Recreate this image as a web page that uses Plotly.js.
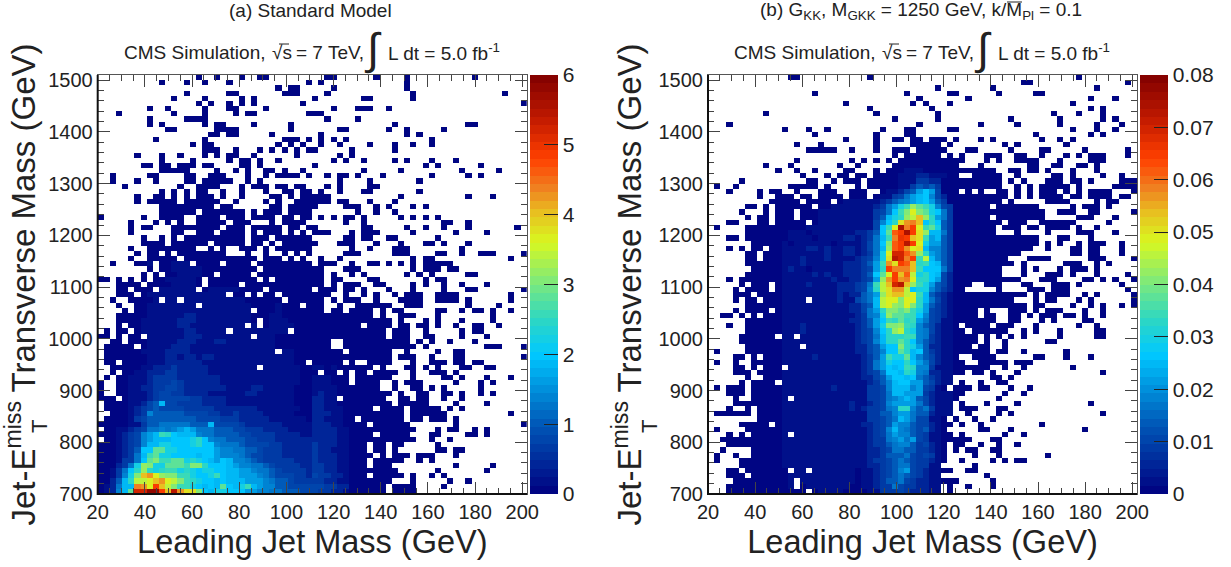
<!DOCTYPE html>
<html>
<head>
<meta charset="utf-8">
<script src="https://cdn.plot.ly/plotly-3.0.1.min.js"></script>
<style>html,body{margin:0;padding:0;background:#fff}</style>
</head>
<body>
<div id="chart" style="width:1231px;height:567px"></div>
<script>
// Cell values, top row (1500-1510 GeV) to bottom row (700-710 GeV).
// Tokens: "a" or "a-b" = lowest bin content in these columns; "a:L" / "a-b:L" = level L;
// "a=LLLL" = successive levels from column a ('.' = empty, '_' = only a visual separator).
// A level is a base-36 digit; level n is n/30 of the colour scale maximum.
const smRows = [
"16 19 23 26 27 37 38 45 50 61",
"10 14 17 21 34 36 50",
"29 31 32 38 50",
"14 21 22 30-32 37 51 66",
"12 17 23 25 35 43 44 51",
"16 18 21 23 25 33 69",
"8 11 17 21 22 27 38 42-44 47",
"3 12 17 22 24 25 34 35 36",
"8 14-17 37 42",
"8 10 17 19 20 25 31 48 60 61",
"11 12 19-22 31 39 40 47 50 56",
"18 19 21 22 28 36 50 52",
"9 17 30-32 34 36 38 40 54",
"15 17 18 29 31 33 36 39 44 48 51 54",
"17 18 19 22 26 28 30 32 34 35 41 48",
"6 10 13 17 19 21 22 25 32 39 41",
"10 15 21 23 24 26 29 38 40 43 48 50 54 58",
"7 8 10 11 13-15 17 18 23 24 26 35 53 55 62",
"10-14 19 22 24 27 28 30 33 43 49 59 65",
"2 8 9 14 15 18-20 24 27 29-32 34 37 39 40 42 46 54 60 62",
"2 6 9 14 15 17 18 19-21 24 26 39 44 52",
"4 13 16-19 23 25-27 29 30 32 33 37 39 44 45",
"10 12 14 16 17 20 23 27 30 31 33 34 36 39 43 44 52",
"6 9 10 12 14 16-18 20 23 28 29 31 33 34 35-37 49 60 64",
"6 8-12 14-18 19 22 27 29 32-34 35-37 39 40 44 48",
"10-13 14-18 20 21 28 29 31-34 35 40 41 42 45 47 51 53",
"10-13 14 15 17-21 22 23 25 27-29 31-34 42 45 48",
"0 7 10-13 16 17 18 19 21-23 25-28 30 31 33 34 36 38 40 41 43 49 51 53 55",
"5 9 11 13 16-18 19 20 22-24 28 30-33 40 43 56 57 60",
"5 7 8 12-15 16-19 21-23 25-29 31 32 34 35 43 44 50 53 56 60 68",
"5 12 13 16-18 20-23 25 27-29 31 33 35-37 41 43-45 51 58 63",
"7 10 12 14-23 25-27 29-34 40 41 43 44 47 48 55",
"7-10 12-17 19-23 25 26 28 30-34 35 39 40 41 45 49 53 54 56 60",
"5 8-15 18 20 23-25 27 29-34 41 44 48-50 59",
"6 8 9 11 13-20 24 27 30 32 34 40-42 48-50 55 56 59 62-64 69",
"5 8-12 14-25 27-29 31 33 36 39 51 53 54 67",
"2 6-8 10-14 16-19 21-24 26-34 36-38 41 44 45 47 49 51 53-57 8:1 12-14:1",
"8 10-17 18-25 27-34 35 36 40-42 51 53-55 57 58 12-16:1",
"7 9 11-18 20-24 26-34 35 36 38 41 43 50 52 54 60 61 13-16:1",
"0 1 3 5 7 9-16 18-25 27 29-34 35 36 38 39 44 45 53 55 56 11-15:1",
"3-6 8-16 18-22 24-34 35 36 38 40-42 45 46 51 53 56 59 63 12-15:1",
"3 4 6-8 10-15 17-26 28-34 36-38 40 41 43 47 51 56 60 61 69 10-15:1 18-22:1",
"0=...00_0.011_11111_11111_1.00._0.00._00000 35-37 40 43 45 48 50-52 55-58 67",
"0=..0.._00001_.11.1_11111_11110_00000_.0000 35 36 38 40-42 45 49-52 55-58 60 67",
"0=...0._.0011_11111_1.111_11111_00001_000.0 35 36 39 42-44 45-47 50-52 60 65",
"0=....0_.0011_11111_11111_11111_.0001_00000 35 36 38 39 41-44 46 48 49 55 56 59 61 62 64 67",
"0=...00_00011_11112_21111_11111_00011_00000 35-44 46 49-51 55 64",
"0=...00_00111_11122_21111_11111_0.011_10000 35-47 49 53 55 59 64",
"0=...0._00111_11122_11111_1111._1.011_11000 35-42 44-47 49 50 52 53 55 58 61 62 65",
"0=.0.00_.0111_11112_21111_1.111_11111_1.000 35-46 48-50 53 59 61 62",
"0=00.0._00.11_11112_22111_11111_.1110_00000 35-46 48-50 53 54 59 63",
"0=..00._00011_11122_21112_21111_11110_00000 35-37 40-50 52 54 57 61",
"0=.0000_0.011_11222_11111_11111_11110_00000 35-37 40-51 53 63-65 69",
"0=.0000_00111_12222_11111_11111_1111._11000 35-39 41-47 50 55 58 59",
"0=.0000_00011_12212_21221_11111_11111_11000 35-47 49-51 54 58 59 69",
"0=.00.0_00011_12222_22111_11111_11111_1100. 35-39 41 44-47 51 54-56 58 59 61 62",
"0=..000_00112_22322_22211_11111_1.111_11100 35-44 46 50 51 53 55 59 60 63 64 35=1101",
"0=..0.0_01122_23322_22211_11111_11111_11100 35 37 38 40 42 43 45-48 51 54-56 58",
"0=.0.00_11123_33322_22222_11111_11111_11100 35-40 42-47 51 56 57 59 63 67 35=111",
"0=0..00_11123_33432_22222_11111_11111_11100 35-40 42-45 48 50-52 58 62 64 35=111",
"0=0..00_11223_34432_22222_21111_22111_11000 35-45 48 51 52 54 56 62 35=1111",
"0=0..00_11123_44332_22211_11112_21111_11000 35-47 49 52 53 56 57 59 62 64 35=1211",
"0=000.0_11123_44444_33222_21111_11111_11000 35-38 40-46 49 50 52 53 56 59 35=2211",
"0=.0000_11245_94433_33222_21111_11111_11000 35-47 49-53 58 63 35=2211",
"0=.0000_12345_44443_33332_22222_21111_11100 35-44 46-49 51-55 57 59 35=22111",
"0=..000_12375_55554_44433_22322_22111_11000 35-49 51-56 67 35=22211",
"0=.0000_13455_55555_54444_33322_22211_11110 35-41 43-49 51 52 54-56 58 35=22111",
"0=00000_11355_66666_55594_44432_22222_11111 35-43 45-50 58 69 35=22211",
"0=.0011_23466_76789_86665_55443_33222_21111 35-51 55 57 58 61 63 35=222211",
"0=00012_34789_DCA99_97665_55544_33332_22211 35-44 46 47 48-50 54 55 60 61 63 35=222211",
"0=.0012_34789_99AAA_BCA76_65554_43332_22222 35-51 54 57 35=222211",
"0=00012_34799_BBAAA_BCAA7_66654_44433_22222 35-43 45 46 48 49 55 35=322211",
"0=00012_35AAE_EBBAA_AAAA8_77665_54333_22222 35-43 45 46 48 55 56 58 59 35=322111",
"0=00012_369DE_BBAAA_A9AA8_77765_44333_22222 35-44 46 48-50 52-54 58 35=322211",
"0=00013_36AEF_DDEEB_CBA98_A9776_54333_33222 35-43 45-49 52 54 35=322211",
"0=00023_6BGFB_BEEED_FFCAA_A9877_66543_33322 35-43 45-47 58 64 35=332211",
"0=00136_ACGCB_CDDBC_BABBA_A9988_76654_33332 35-43 44-48 55 63 35=332211",
"0=00137_BFKLI_GFFDD_BAABD_A9988_87654_44332 35-43 45-49 51 54 56 35=433221",
"0=00259_CHHIK_LIHFD_CBAA9_A9998_88765_54333 35-41 42-47 51 57 60 35=332211",
"0=01269_9MLIO_KHFDD_BA9A9_EA9BD_98775_54444 35-44 45 46 48-51 56 35=443322",
"0=01279_EQQTT_OKRLJ_JFA9B_BAAA8_87766_55544 35-46 48-51 35=433221"
];
const sigRows = [
"13 14 26 60",
"51 52 68",
"37 46 63",
"17 32 39 40 47 53 54",
"34 42 62 66",
"22 33 35 39 59",
"26 36 62 64",
"9 27 37 56 60 64",
"30 37 49 57 64 66",
"3 34 44 50 57 63 67",
"12 16 19 28 32 33 39 40 59 63 66",
"17 27 32 33 53 62 64",
"22 27 30 31 33 34 36 37 38 40 44 46 54 57 59",
"14 18 27 33 34 35-37 39 48 50 58",
"16-20 23 27 30-32 34 35-38 42 43 49 54 55 61 68",
"30 32-34 35-37 39 41 45-47 50 51 54 58 60 62-64 68",
"14 23 25 27 29 31-34 35-41 45 47 50-53 57 62-64",
"9 13 21 24 30-34 35-40 44 52 53 56 57 60 61 63",
"11 14 17 22 23 27 29-34 35-43 44-46 49 50 52 53 55 59 63 30=00111",
"15 19 21 22 24 25 27 28 29-34 35-40 43-47 50 56 57 59 64 67 29=0011122 35=2111",
"5 16 17 20 22-24 26-28 29-34 35-47 49 51 55-57 59 60 62 67-69 28=0001113 35=322",
"1 4 13-17 19 24 26-34 35-47 50 52 54-58 60 66-69 28=0001135 35=453",
"3 8 10 11 14 18-20 23-25 29-34 35-40 42 44 47 48 50 52 54-56 58 60 62-65 69 28=0112458 35=A84",
"8 11-13 15 16 18-21 23-25 27 35-48 50 52 54-57 59 60 62-65 67 68 28=1134689 35=A742",
"10-14 16-19 21-27 35-45 46 47 49 55-58 63 65 66 22-27:1 28=2356789 35=A853",
"6 7 9 11-16 18-26 35-45 47-53 59 61-63 65 20-26:1 27=2368BDGE 35=DB743",
"5 9 11-13 15-26 35-46 47-54 57-59 62 63 69 18-26:1 27=346ADFIF 35=EBA63",
"6 8 9 11-13 15-26 35-45 47-54 60-62 66 18-26:1 27=359BCGHK 35=GC863",
"3 4 8 9 11-15 17-26 35-47 49-51 54-59 65 18-26:1 27=47ACJLMK 35=ACA53",
"1 6-26 35-46 48-50 52 53 55-58 60 63 16-26:1 27=4ADISMOI 35=DEB53",
"6-11 35-46 50 55 60-62 66 12=01110111111122 26=35AENOSOJ 35=G9963",
"3 4 6-11 35-53 57 58 62 12=01111011112212 26=369DMPOKJ 35=D8953",
"7-11 35-53 55 57 60 62 63 64 67 12=10111111011112 26=46AFNOROI 35=B8853",
"3 5 7 8 10 11 35-52 55 59 60 62 63 67 12=11112212112212 26=469GNOLIJ 35=97753",
"6 7 9-11 35-50 59 60 62 63 67 12=11111112112212 26=36BIQQNLG 35=C8753",
"6 7 9-11 35-47 48 52-55 62-64 69 12=11121112111123 26=47BJRQMOD 35=H9753",
"6-11 35-49 51 58-60 63 65 12=11121111112223 26=58DLJONKC 35=DA953",
"7-11 35-46 47 51 53 57 59-61 63 12=12110111112223 26=48COMMMKD 35=AAA63",
"6-11 35-46 47 51 55-57 59 63 68 12=11111212112223 26=5AEIOKNHB 35=CA942",
"3 5-11 35-50 54-56 61 62 64 66 69 12=11111111211223 26=48GLOLMIC 35=CA842",
"5 7-9 11 35-42 45-47 51 52 56-58 60 67 12=11112111122234 26=6DHKQRKGD 35=B8542",
"4 6-9 11 35-41 47 52-54 56-58 68 12=11111111122234 26=7CHJLLHAB 35=B7532",
"4-6 8-11 38-42 43-46 47-50 51 53 55-58 61 63 69 12=111111111212 24=2568GJKKHID 35=95321",
"4 6 7 9-11 38-49 53 55 56 60 62 69 12=1111.1111211 24=4569HIIFIIC 35=96421",
"6-11 38-51 53 54 59 62 64 67 69 12=111111111112 24=2459HIGFIFC 35=85321",
"4 6-9 11 38-43 45 49-51 53 55-57 61 64 12=111111111112 24=2468CFFEFDB 35=84321",
"2 3 5 7 9-11 38-43 45 46 49 50 52 54-56 58 59 61 64 12=111111111111 24=2367BGEEDDA 35=74321",
"6-11 38-46 49 50 54 56 61 62 12=111111111112 24=2358ADCECD8 35=64311",
"3 6-11 38-40 42-45 47-49 53 60 63 12=111211111111 24=2358BFFGDC7 35=54211",
"6-11 38-41 43-46 47 48 51 53 57 63 64 12=111211111111 24=2347ACGHCB7 35=64211",
"5-10 38-43 45 47 49 51 57 63 64 12=11.111111111 24=23469CCCDD7 35=63211",
"5-11 38-43 45 48 55 56 12=111111111111 24=23479CCECA7 35=53211",
"6-11 38-42 44 45 48 12=111.11111111 24=22458AAFCB8 35=52211",
"1 6-11 38-40 41-43 44 45 47 48 51 58 12=111111111111 24=22457AAEC9A 35=53211",
"4 5 7 9-11 38-40 43-46 53 54 58 62 12=111112111111 24=12358DBBE97 35=54211",
"1 4 7-11 38-40 41 44-48 50-52 12=111111111111 24=12368BAACA8 35=64211",
"4 5 7 9-11 38-44 45 48 51 59 12=.11111111111 24=12368A9ADC7 35=73111",
"4-6 8-11 38-41 43 44 46 50 64 12=111111111111 24=12346AA9CB7 35=62211",
"6 9-11 38 39 46 47 49 12=111111111111 24=122458AA9A6 35=53211",
"5 7-10 38 39 41 44 47 48 12=111111111111 24=1123579AA88 35=54211",
"1 3-5 7-11 38 40-42 44 45 49 52 12=111111112111 24=11334799978 35=431",
"3-5 7-11 38-41 48 51 12=111111111111 24=11334699888 35=32111",
"4 7-11 38-40 47 12=1.1111111111 24=11334678985 35=42111",
"4-6 7-11 38 39 41 45 50 62 12=111111111112 24=11234788886 35=42111",
"3 6 8-11 38 39 41-43 47 48 12=111111111112 24=1233467CC75 35=63111",
"1-6 8-11 38 39 42 47 49 64 12=111111111111 24=11335578865 35=52111",
"8-11 38 40 43 46 12=111111111111 24=11334569864 35=411",
"5-9 11 38 39 41 44 54 12=111111111111 24=12234587754 35=421",
"1 6-11 38 44 45 49 61 12=111111111111 24=11234797654 35=521",
"3 5 7-11 38 39 41 48 51 12=1.1111111111 24=11234687754 35=311",
"2-6 7-11 38-42 46 47 12=111111111111 24=11233678684 35=311",
"3-11 38 40 41 44 47 50 12=111111111111 24=11233567753 35=421",
"2 7-11 38 40 42 43 46 47 12=111111111111 24=11223466553 35=321",
"1 4 7-11 38 43 47 55 12=111111111111 24=11223555643 35=431",
"1 5-11 38 41 46 48 50 51 12=111111111111 24=11233456543 35=321",
"5-11 43 12=111111111111 24=11223456643 35=311",
"3 4 6-11 38 39 42 43 12=0.11.1111111 24=01123457843 35=211",
"3-5 7-11 45 12=011111111111 24=01123456543 35=211",
"4-11 38-40 46 12=01.111111111 24=01123556432 35=211",
"3-11 39 42 46 12=01.011111110 24=01123364332 35=211",
"3-11 39 12=0000.0111100 24=00113334322 35=211"
];
const smMax = 6, sigMax = 0.08;
const smTicks = [0,1,2,3,4,5,6];
const sigTicks = [0,0.01,0.02,0.03,0.04,0.05,0.06,0.07,0.08];
const sigTickText = ["0","0.01","0.02","0.03","0.04","0.05","0.06","0.07","0.08"];
const massLow = 20, massBin = 2.6, massBins = 70;
const mtLow = 700, mtBin = 10, mtBins = 81;

function decode(rows, zmax){
  const levelValue = l => l === 0 ? zmax*0.012 : l/30*zmax;
  return rows.map(row => {
    const cells = new Array(massBins).fill(null);
    row.split(' ').forEach(tok => {
      if (tok.includes('=')) {
        const [c, s] = tok.split('=');
        [...s.replace(/_/g,'')].forEach((ch,k) => {
          cells[+c+k] = ch === '.' ? null : levelValue(parseInt(ch,36));
        });
      } else {
        const [span, lev] = tok.split(':');
        const [a, b] = span.split('-').map(Number);
        const end = b === undefined ? a : b;
        for (let c=a; c<=end; c++) cells[c] = levelValue(lev ? parseInt(lev,36) : 0);
      }
    });
    return cells;
  }).reverse();
}
const xCentres = Array.from({length:massBins},(_,i)=>massLow+massBin*(i+0.5));
const yCentres = Array.from({length:mtBins},(_,i)=>mtLow+mtBin*(i+0.5));

// ROOT-like rainbow palette drawn as discrete steps
const anchors = [[0,[0,0,128]],[0.1667,[0,88,184]],[0.3333,[0,200,255]],[0.42,[48,216,192]],[0.5,[120,232,128]],
 [0.6,[216,248,32]],[0.67,[232,192,32]],[0.73,[240,128,32]],[0.8,[255,64,0]],[0.9,[190,24,0]],[1,[128,0,0]]];
function colourAt(t){
  for (let i=1;i<anchors.length;i++){
    if (t<=anchors[i][0]){
      const [t0,c0]=anchors[i-1],[t1,c1]=anchors[i],f=(t-t0)/(t1-t0);
      return 'rgb('+c0.map((v,k)=>Math.round(v+(c1[k]-v)*f)).join(',')+')';
    }
  }
  return 'rgb(128,0,0)';
}
const steps = 50, scale = [];
for (let i=0;i<steps;i++){
  const c = colourAt((i+0.5)/steps);
  scale.push([i/steps,c]); scale.push([(i+1)/steps,c]);
}

const W=1231,H=567, frameTop=75, frameBottom=494;
const px = v=>v/W, py = v=>1-v/H;
const fontName = '"Liberation Sans", Arial, sans-serif';
const ink = '#222', tickInk = '#444';

function heat(z,zmax,xa,ya,cbx,ticks,text){
  return {type:'heatmap',x:xCentres,y:yCentres,z:z,xaxis:xa,yaxis:ya,zmin:0,zmax:zmax,colorscale:scale,
    hoverongaps:false,
    colorbar:{x:px(cbx),xanchor:'left',xpad:0,ypad:0,y:py(frameBottom),yanchor:'bottom',len:(frameBottom-frameTop)/H,lenmode:'fraction',
      thickness:28,thicknessmode:'pixels',outlinewidth:0,ticks:'inside',ticklen:14,tickcolor:'#222',tickwidth:1,
      tickvals:ticks,ticktext:text,tickfont:{family:fontName,size:21,color:ink}}};
}
function xAxis(l,r,anchor){
  return {domain:[px(l),px(r)],range:[20,202],anchor:anchor,tick0:20,dtick:20,ticks:'inside',ticklen:12,tickwidth:1,tickcolor:tickInk,
    showgrid:false,zeroline:false,showline:true,linecolor:'#555',linewidth:1,mirror:'ticks',
    minor:{tick0:20,dtick:5,ticks:'inside',ticklen:6,tickwidth:1,tickcolor:tickInk,showgrid:false},
    tickfont:{family:fontName,size:20,color:ink},
    title:{text:'Leading Jet Mass (GeV)',font:{family:fontName,size:32.5,color:ink},standoff:8}};
}
function yAxis(anchor){
  return {domain:[py(frameBottom),py(frameTop)],range:[700,1510],anchor:anchor,tick0:700,dtick:100,ticks:'inside',ticklen:12,tickwidth:1,tickcolor:tickInk,
    showgrid:false,zeroline:false,showline:true,linecolor:'#555',linewidth:1,mirror:'ticks',
    minor:{tick0:700,dtick:20,ticks:'inside',ticklen:6,tickwidth:1,tickcolor:tickInk,showgrid:false},
    tickfont:{family:fontName,size:20,color:ink},
    title:{text:'Jet-E<sup>miss</sup> Transverse Mass (GeV)',font:{family:fontName,size:33,color:ink},standoff:6}};
}
function note(text,x,y,size,extra){
  return Object.assign({text:text,xref:'paper',yref:'paper',x:px(x),y:py(y),xanchor:'left',yanchor:'middle',showarrow:false,
    font:{family:fontName,size:size,color:ink},borderpad:0},extra||{});
}
function header(dx){
  return [
    note('CMS Simulation,',123+dx,52,19),
    note('√s',271+dx,53,19),
    note('= 7 TeV,',295+dx,52,19),
    note('∫',363+dx,49,44),
    note('L dt = 5.0 fb<sup>-1</sup>',387+dx,52,19)
  ];
}
function line(x0,y0,x1,y1,c,w){
  return {type:'line',xref:'paper',yref:'paper',x0:px(x0),y0:py(y0),x1:px(x1),y1:py(y1),line:{color:c,width:w}};
}
const layout = {
  width:W,height:H,margin:{l:0,r:0,t:0,b:0},paper_bgcolor:'#fff',plot_bgcolor:'#fff',showlegend:false,
  font:{family:fontName,color:ink},
  xaxis:xAxis(97.7,527,'y'),yaxis:yAxis('x'),
  xaxis2:xAxis(708,1137,'y2'),yaxis2:yAxis('x2'),
  annotations:[
    note('(a) Standard Model',310.5,10,19,{xanchor:'center'}),
    note('(b) G<sub>KK</sub>, M<sub>GKK</sub> = 1250 GeV, k/M<sub>Pl</sub> = 0.1',921,11,19,{xanchor:'center'}),
    ...header(0),...header(610),
    note('T',39,427,22,{textangle:-90,xanchor:'center'}),
    note('T',649,427,22,{textangle:-90,xanchor:'center'})
  ],
  shapes:[
    line(279,44,289,44,ink,1),line(889,44,899,44,ink,1),
    line(1007,2,1022,2,ink,1),
    line(97.7,frameTop,97.7,frameBottom+1,'#111',2),line(97,frameBottom,527,frameBottom,'#111',2),
    line(708,frameTop,708,frameBottom+1,'#111',2),line(707.3,frameBottom,1137,frameBottom,'#111',2)
  ]
};
const data = [
  heat(decode(smRows,smMax),smMax,'x','y',530,smTicks,smTicks.map(String)),
  heat(decode(sigRows,sigMax),sigMax,'x2','y2',1140,sigTicks,sigTickText)
];
Plotly.newPlot('chart',data,layout,{displayModeBar:false,responsive:false});
</script>
</body>
</html>
